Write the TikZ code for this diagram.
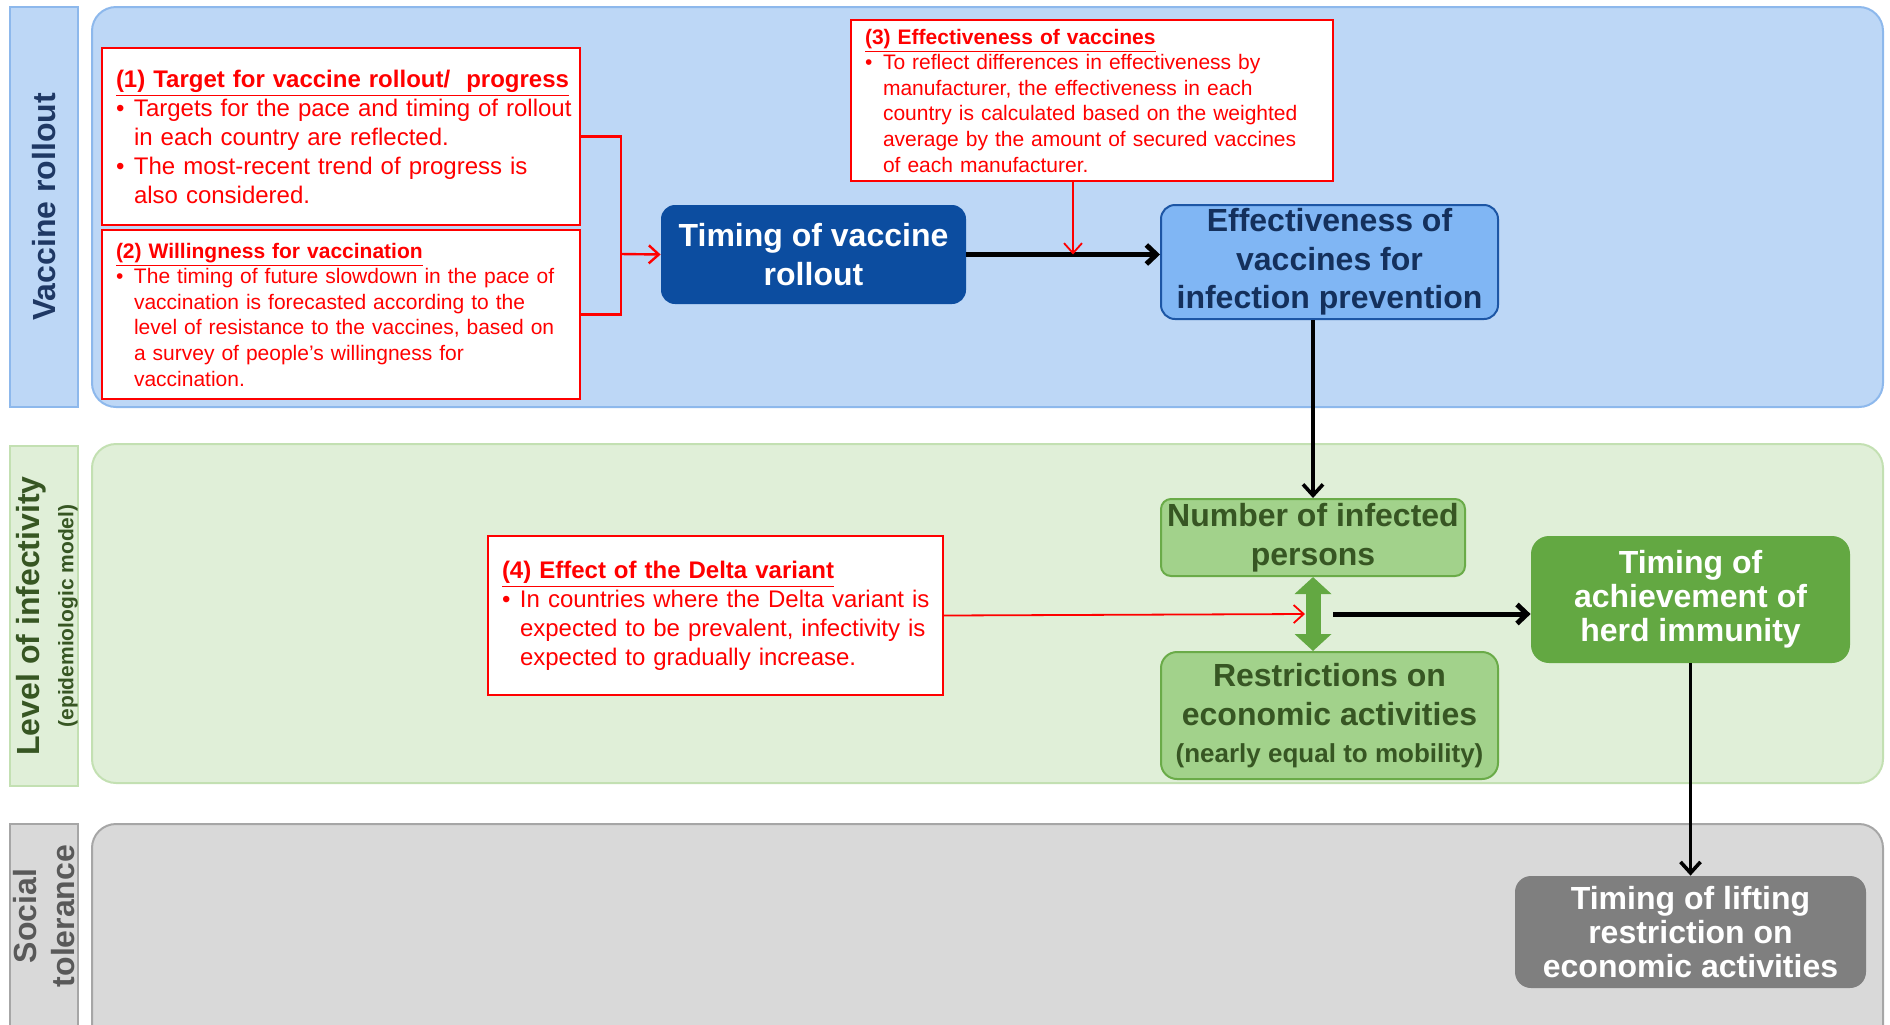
\documentclass[tikz,border=0pt]{standalone}
\usepackage{fontspec}
\setmainfont{Liberation Sans}
\usepackage{xcolor}
\usetikzlibrary{arrows.meta, calc}

\definecolor{bluefill}{HTML}{BDD7F6}
\definecolor{blueline}{HTML}{8DB8EC}
\definecolor{navytext}{HTML}{1F3864}
\definecolor{darkblue}{HTML}{0C4DA0}
\definecolor{midblue}{HTML}{80B6F4}
\definecolor{effline}{HTML}{1D56A5}
\definecolor{efftext}{HTML}{14305C}
\definecolor{greenfill}{HTML}{E0EFD8}
\definecolor{greenline}{HTML}{C3E0B2}
\definecolor{darkgreen}{HTML}{375623}
\definecolor{lightgreen}{HTML}{A2D28B}
\definecolor{midgreen}{HTML}{6AAB48}
\definecolor{boxgreen}{HTML}{63A842}
\definecolor{grayfill}{HTML}{D9D9D9}
\definecolor{grayline}{HTML}{A6A6A6}
\definecolor{graytext}{HTML}{595959}
\definecolor{boxgray}{HTML}{7F7F7F}

\newcommand{\bitem}[1]{\par\noindent\hangindent=9pt\hangafter=1\makebox[9pt][l]{\textbullet}#1\par}

\tikzset{
  lane/.style={line width=1pt, rounded corners=12pt},
  lanetitle/.style={line width=1pt},
  note/.style={draw=red, line width=1.2pt, fill=white, text=red, inner xsep=7pt, inner ysep=3pt, align=left},
  flowbox/.style={rounded corners=7pt, align=center, inner sep=1pt, font=\bfseries\fontsize{16}{19.3}\selectfont},
  flow/.style={line width=2.5pt, -{Straight Barb[length=5pt,width=9.5pt]}},
  vflow/.style={line width=1.8pt, -{Straight Barb[length=5.5pt,width=10pt]}},
  hint/.style={red, line width=0.9pt, -{Straight Barb[length=5pt,width=9pt]}},
}

\begin{document}
\begin{tikzpicture}[x=0.5pt, y=-0.5pt]
  \useasboundingbox (0,0) rectangle (1890,1024);

  % lanes
  \draw[lanetitle, draw=blueline, fill=bluefill] (10,7) rectangle (78,407);
  \draw[lane, draw=blueline, fill=bluefill] (92,7) rectangle (1883,407);
  \draw[lanetitle, draw=greenline, fill=greenfill] (10,446) rectangle (78,786);
  \draw[lane, draw=greenline, fill=greenfill] (92,444) rectangle (1883,783);
  \draw[lanetitle, draw=grayline, fill=grayfill] (10,824) rectangle (78,1060);
  \draw[lane, draw=grayline, fill=grayfill] (92,824) rectangle (1883,1060);

  % lane titles
  \node[rotate=90, text=navytext, font=\bfseries\fontsize{16}{19}\selectfont] (tvac) at (44,207) {Vaccine rollout};
  \node[rotate=90, align=center, text=darkgreen, font=\bfseries\fontsize{16}{16}\selectfont] (tinf) at (47,616)
    {Level of infectivity\\[1pt]{\fontsize{10.5}{12}\selectfont(epidemiologic model)}};
  \node[rotate=90, align=center, text=graytext, font=\bfseries\fontsize{16}{19}\selectfont] (tsoc) at (44,916) {Social\\tolerance};

  % notes
  \node[note, text width=225pt, minimum height=88.5pt, font=\fontsize{12}{14.5}\selectfont] (b1) at (341,136.5) {%
    \underline{\textbf{(1) Target for vaccine rollout/\ \ progress}}
    \bitem{\mbox{Targets for the pace and timing of rollout}\newline in each country are reflected.}
    \bitem{The most-recent trend of progress is\newline also considered.}};
  \node[note, text width=225pt, minimum height=84.5pt, font=\fontsize{10.5}{12.8}\selectfont] (b2) at (341,314.5) {%
    \underline{\textbf{(2) Willingness for vaccination}}
    \bitem{The timing of future slowdown in the pace of\newline vaccination is forecasted according to the\newline level of resistance to the vaccines, based on\newline a survey of people’s willingness for\newline vaccination.}};
  \node[note, text width=227pt, minimum height=80.5pt, font=\fontsize{10.5}{12.8}\selectfont] (b3) at (1092,100.5) {%
    \underline{\textbf{(3) Effectiveness of vaccines}}
    \bitem{To reflect differences in effectiveness by\newline manufacturer, the effectiveness in each\newline country is calculated based on the weighted\newline average by the amount of secured vaccines\newline of each manufacturer.}};
  \node[note, text width=213.5pt, minimum height=79.5pt, font=\fontsize{12}{14.5}\selectfont] (b4) at (715.5,615.5) {%
    \underline{\textbf{(4) Effect of the Delta variant}}
    \bitem{\mbox{In countries where the Delta variant is}\newline expected to be prevalent, infectivity is\newline expected to gradually increase.}};

  % flow boxes
  \node[flowbox, fill=darkblue, text=white, minimum width=152.5pt, minimum height=49.5pt] (tim) at (813.5,254.5) {Timing of vaccine\\rollout};
  \node[flowbox, fill=midblue, draw=effline, line width=1pt, text=efftext, minimum width=168.5pt, minimum height=57pt] (eff) at (1329.5,262) {Effectiveness of\\vaccines for\\infection prevention};
  \node[flowbox, rounded corners=5pt, fill=lightgreen, draw=midgreen, line width=1pt, text=darkgreen, minimum width=152pt, minimum height=38.5pt] (num) at (1313,537.5) {Number of infected\\persons};
  \node[flowbox, rounded corners=8pt, fill=lightgreen, draw=midgreen, line width=1pt, text=darkgreen, minimum width=168.5pt, minimum height=63.5pt] (restr) at (1329.5,715.5)
    {Restrictions on\\economic activities\\[-1pt]{\fontsize{13}{15}\selectfont(nearly equal to mobility)}};
  \node[flowbox, rounded corners=9pt, fill=boxgreen, text=white, font=\bfseries\fontsize{16}{17}\selectfont, minimum width=159.5pt, minimum height=63.5pt] (ach) at (1690.5,599.5) {Timing of\\achievement of\\herd immunity};
  \node[flowbox, rounded corners=8pt, fill=boxgray, text=white, font=\bfseries\fontsize{16}{17}\selectfont, minimum width=175.5pt, minimum height=56pt] (lift) at (1690.5,932) {Timing of lifting\\restriction on\\economic activities};

  % red inputs
  \coordinate (brk) at (621,254);
  \draw[red, line width=1.2pt] (b1.east) -| (brk) |- (b2.east);
  \draw[hint, line width=1.2pt] (brk) -- (tim.west);
  \coordinate (b3foot) at ($(b3.south)+(-19,0)$);

  % main flow
  \draw[flow] (tim.east) -- (tim.east -| eff.west);
  \draw[hint] (b3foot) -- (b3foot |- tim.east);
  \draw[vflow] (num.north |- eff.south) -- (num.north);
  \coordinate (mid) at ($(num.south)!0.5!(num.south |- restr.north)$);
  \draw[boxgreen, line width=7.5pt, {Triangle[length=8.5pt,width=18pt]}-{Triangle[length=8.5pt,width=18pt]}] (num.south) -- (num.south |- restr.north);
  \draw[hint] (b4.east) -- ([xshift=-4pt]mid);
  \draw[flow] ([xshift=10pt]mid) -- (mid -| ach.west);
  \draw[vflow] (ach.south) -- (lift.north);
\end{tikzpicture}
\end{document}
